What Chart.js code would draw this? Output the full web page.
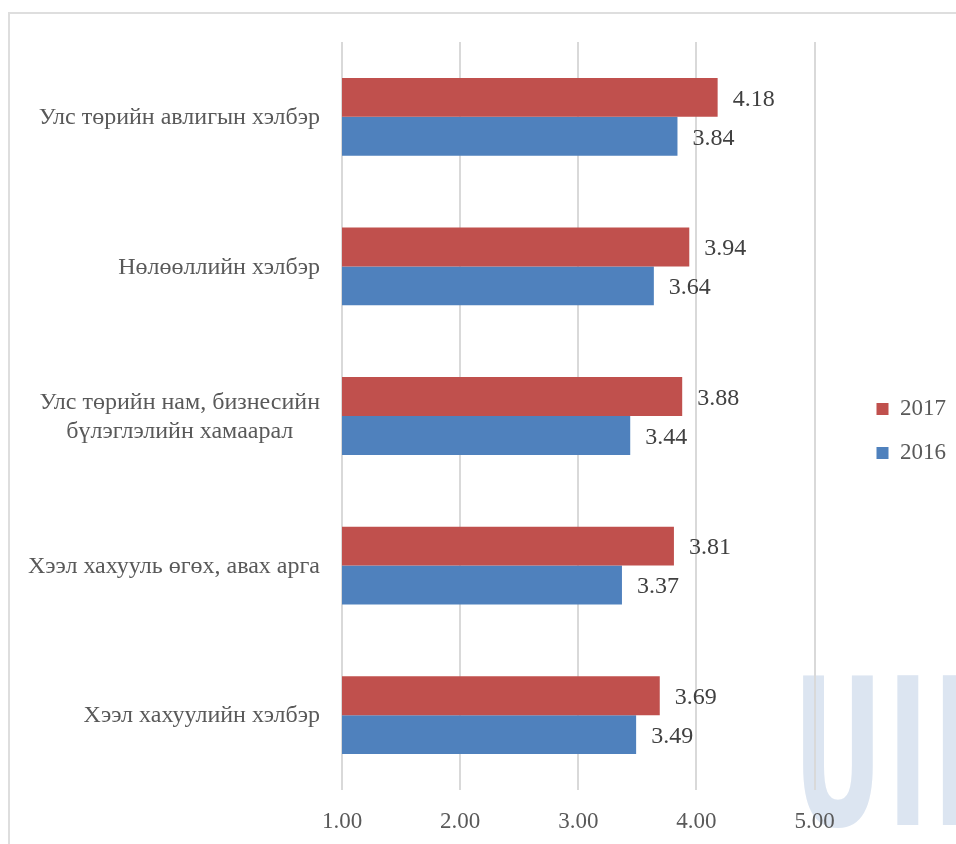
<!DOCTYPE html>
<html>
<head>
<meta charset="utf-8">
<script src="https://cdn.jsdelivr.net/npm/chart.js@4"></script>
<style>
  html, body { margin: 0; padding: 0; background: #fff; }
  #wrap { position: relative; width: 956px; height: 844px; overflow: hidden; }
  #frame { position: absolute; left: 8px; top: 12px; width: 1000px; height: 900px; border: 2px solid #dedede; box-sizing: border-box; }
  #mark { position: absolute; left: 793px; top: 652px; font: bold 205px "DejaVu Sans", sans-serif; line-height: 1;
          color: #dce5f1; transform: scaleX(0.54); transform-origin: left top; letter-spacing: 8px; white-space: nowrap; }
  #chart { position: absolute; left: 0; top: 0; }
</style>
</head>
<body>
<div id="wrap">
  <div id="frame"></div>
  <div id="mark">UIH</div>
  <canvas id="chart" width="956" height="844"></canvas>
</div>
<script>
// categories, top to bottom
const categories = [
  "Улс төрийн авлигын хэлбэр",
  "Нөлөөллийн хэлбэр",
  ["Улс төрийн нам, бизнесийн", "бүлэглэлийн хамаарал"],
  "Хээл хахууль өгөх, авах арга",
  "Хээл хахуулийн хэлбэр"
];
const values2017 = [4.18, 3.94, 3.88, 3.81, 3.69];
const values2016 = [3.84, 3.64, 3.44, 3.37, 3.49];
const xTicks = [1, 2, 3, 4, 5];

const serif = "'Liberation Serif', 'Times New Roman', serif";

// category labels: block right aligned, lines centred inside the block
const yLabelPlugin = {
  id: "yLabels",
  afterDraw(chart) {
    const ctx = chart.ctx;
    const scale = chart.scales.y;
    ctx.save();
    ctx.font = "24px " + serif;
    ctx.fillStyle = "#595959";
    ctx.textAlign = "center";
    ctx.textBaseline = "middle";
    categories.forEach((lab, i) => {
      const lines = Array.isArray(lab) ? lab : [lab];
      const w = Math.max(...lines.map(l => ctx.measureText(l).width));
      const cx = scale.right - 22 - w / 2;
      const cy = scale.getPixelForTick(i) + 1;
      lines.forEach((l, j) => {
        ctx.fillText(l, cx, cy + (j - (lines.length - 1) / 2) * 29);
      });
    });
    ctx.restore();
  }
};

// value labels to the right of each bar
const valueLabelPlugin = {
  id: "valueLabels",
  afterDatasetsDraw(chart) {
    const ctx = chart.ctx;
    ctx.save();
    ctx.font = "24px " + serif;
    ctx.fillStyle = "#404040";
    ctx.textAlign = "left";
    ctx.textBaseline = "middle";
    chart.data.datasets.forEach((ds, di) => {
      chart.getDatasetMeta(di).data.forEach((bar, i) => {
        ctx.fillText(ds.data[i].toFixed(2), bar.x + 15, bar.y + 2);
      });
    });
    ctx.restore();
  }
};

const hidden = {
  grid: { display: false },
  border: { display: false },
  ticks: { display: false }
};

new Chart(document.getElementById("chart"), {
  type: "bar",
  data: {
    labels: categories,
    datasets: [
      { label: "2017", data: values2017, backgroundColor: "#c0504d" },
      { label: "2016", data: values2016, backgroundColor: "#4f81bd" }
    ]
  },
  options: {
    indexAxis: "y",
    responsive: false,
    animation: false,
    layout: { padding: { top: 18, bottom: 0, left: 0, right: 0 } },
    datasets: { bar: { categoryPercentage: 0.52, barPercentage: 1.0 } },
    scales: {
      x: {
        min: 1, max: 5,
        afterBuildTicks: s => { s.ticks = xTicks.map(v => ({ value: v })); },
        afterFit: s => { s.height = 54; },
        grid: { color: "#d9d9d9", lineWidth: 2, drawTicks: false },
        border: { display: false },
        ticks: {
          padding: 18,
          color: "#595959",
          font: { family: serif, size: 23 },
          callback: v => Number(v).toFixed(2)
        }
      },
      y: Object.assign({ afterFit: s => { s.width = 342; } }, hidden),
      // empty spacers: above the plot and between the plot and the legend
      gapTop: Object.assign({ type: "linear", axis: "x", position: "top", afterFit: s => { s.height = 24; } }, hidden),
      gapRight: Object.assign({ type: "category", axis: "y", position: "right", afterFit: s => { s.width = 41; } }, hidden)
    },
    plugins: {
      legend: {
        position: "right",
        labels: {
          boxWidth: 12,
          boxHeight: 12,
          padding: 21,
          color: "#595959",
          font: { family: serif, size: 23 }
        }
      },
      tooltip: { enabled: false }
    }
  },
  plugins: [yLabelPlugin, valueLabelPlugin]
});
</script>
</body>
</html>
